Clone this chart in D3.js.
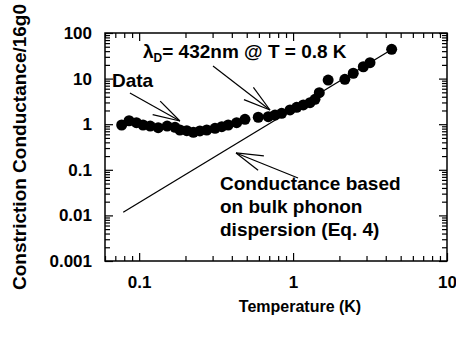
<!DOCTYPE html>
<html>
<head>
<meta charset="utf-8">
<script src="https://cdn.jsdelivr.net/npm/d3@7"></script>
<style>
  body { margin: 0; background: #fff; }
  svg text { font-family: "Liberation Sans", Arial, Helvetica, sans-serif; font-weight: bold; fill: #000; }
</style>
</head>
<body>
<svg id="chart" width="456" height="341"></svg>
<script>
const temperature = [0.077, 0.086, 0.096, 0.106, 0.118, 0.133, 0.152, 0.171, 0.184, 0.204,
  0.225, 0.248, 0.275, 0.311, 0.344, 0.379, 0.430, 0.487, 0.594, 0.690,
  0.763, 0.843, 0.955, 1.055, 1.165, 1.288, 1.388, 1.48, 1.69, 2.17,
  2.46, 2.86, 3.16, 4.37];
const conductance = [0.96, 1.19, 1.08, 0.96, 0.91, 0.84, 0.91, 0.855, 0.746, 0.72,
  0.665, 0.71, 0.746, 0.813, 0.88, 0.96, 1.08, 1.28, 1.42, 1.46,
  1.59, 1.73, 2.05, 2.35, 2.64, 2.96, 3.52, 4.9, 9.3, 9.65,
  13.1, 18.2, 22.3, 43.9];

// bulk phonon dispersion model (straight line on log-log)
const modelT = [0.0788, 4.4];
const modelG = [0.0117, 44];

const xTicks = [0.1, 1, 10];
const xTickLabels = ["0.1", "1", "10"];
const yTicks = [0.001, 0.01, 0.1, 1, 10, 100];
const yTickLabels = ["0.001", "0.01", "0.1", "1", "10", "100"];

const margin = { top: 33, right: 9, bottom: 80, left: 105 };
const width = 456 - margin.left - margin.right;
const height = 341 - margin.top - margin.bottom;

const svg = d3.select("#chart");
const g = svg.append("g").attr("transform", `translate(${margin.left},${margin.top})`);

const x = d3.scaleLog().domain([0.06, 10]).range([0, width]);
const y = d3.scaleLog().domain([0.001, 100]).range([height, 0]);

const xMinor = x.ticks().filter(v => !xTicks.some(t => Math.abs(t - v) < 1e-9));
const yMinor = y.ticks().filter(v => !yTicks.some(t => Math.abs(t - v) < 1e-9));

function clean(sel) {
  sel.select(".domain").remove();
  sel.selectAll(".tick line").attr("stroke", "#000").attr("stroke-width", 1.2);
}

// minor ticks on all four sides
g.append("g").attr("transform", `translate(0,${height})`)
  .call(d3.axisBottom(x).tickValues(xMinor).tickSize(-5).tickFormat("")).call(clean);
g.append("g")
  .call(d3.axisTop(x).tickValues(xMinor).tickSize(-5).tickFormat("")).call(clean);
g.append("g")
  .call(d3.axisLeft(y).tickValues(yMinor).tickSize(-5).tickFormat("")).call(clean);
g.append("g").attr("transform", `translate(${width},0)`)
  .call(d3.axisRight(y).tickValues(yMinor).tickSize(-5).tickFormat("")).call(clean);

// major ticks + labels
g.append("g").attr("transform", `translate(0,${height})`)
  .call(d3.axisBottom(x).tickValues(xTicks).tickSize(-8).tickPadding(15)
    .tickFormat((d, i) => xTickLabels[i]))
  .call(clean)
  .selectAll("text").attr("font-size", 17);
g.append("g")
  .call(d3.axisTop(x).tickValues(xTicks).tickSize(-8).tickFormat("")).call(clean);
g.append("g")
  .call(d3.axisLeft(y).tickValues(yTicks).tickSize(-8).tickPadding(13)
    .tickFormat((d, i) => yTickLabels[i]))
  .call(clean)
  .selectAll("text").attr("font-size", 17);
g.append("g").attr("transform", `translate(${width},0)`)
  .call(d3.axisRight(y).tickValues(yTicks).tickSize(-8).tickFormat("")).call(clean);

svg.selectAll(".tick text").style("font-family", null).attr("font-family", null);
svg.selectAll("g").attr("font-family", null);

// frame
g.append("rect")
  .attr("width", width).attr("height", height)
  .attr("fill", "none").attr("stroke", "#000").attr("stroke-width", 1.5);

// model line
const line = d3.line().x(d => x(d[0])).y(d => y(d[1]));
g.append("path")
  .datum(modelT.map((t, i) => [t, modelG[i]]))
  .attr("d", line)
  .attr("fill", "none").attr("stroke", "#000").attr("stroke-width", 1.3);

// data points
g.selectAll("circle.pt")
  .data(temperature.map((t, i) => [t, conductance[i]]))
  .enter().append("circle")
  .attr("class", "pt")
  .attr("cx", d => x(d[0]))
  .attr("cy", d => y(d[1]))
  .attr("r", 5.5)
  .attr("fill", "#000");

// annotations: arrow tip in data units, tail + text as pixel offsets from tip
const notes = [
  { tip: [0.184, 1.175], tail: [-50, -28], text: [-68, -34], lines: ["Data"] },
  { tip: [0.708, 2.05], tail: [-57, -44], text: [-127, -52], lines: ["λD= 432nm @ T = 0.8 K"] },
  { tip: [0.426, 0.234], tail: [62, 25], text: [-16, 37],
    lines: ["Conductance based", "on bulk phonon", "dispersion (Eq. 4)"] }
];

notes.forEach(n => {
  const tx = x(n.tip[0]), ty = y(n.tip[1]);
  const ang = Math.atan2(n.tail[1], n.tail[0]);
  const len = 28, spread = 16 * Math.PI / 180;
  const a = g.append("g").attr("stroke", "#000").attr("stroke-width", 1.2).attr("fill", "none");
  a.append("line").attr("x1", tx).attr("y1", ty)
    .attr("x2", tx + n.tail[0]).attr("y2", ty + n.tail[1]);
  [-spread, spread].forEach(s => {
    a.append("line").attr("x1", tx).attr("y1", ty)
      .attr("x2", tx + len * Math.cos(ang + s)).attr("y2", ty + len * Math.sin(ang + s));
  });

  const t = g.append("text")
    .attr("x", tx + n.text[0]).attr("y", ty + n.text[1])
    .attr("font-size", 19);
  n.lines.forEach((l, i) => {
    if (l.startsWith("λD")) {
      t.append("tspan").text("λ");
      t.append("tspan").attr("font-size", 12).attr("dy", 4).text("D");
      t.append("tspan").attr("dy", -4).text(l.slice(2));
    } else {
      t.append("tspan").attr("x", tx + n.text[0]).attr("dy", i === 0 ? 0 : 23).text(l);
    }
  });
});

// axis titles
svg.append("text")
  .attr("x", 300).attr("y", 312)
  .attr("text-anchor", "middle").attr("font-size", 16)
  .text("Temperature (K)");

svg.append("text")
  .attr("transform", "translate(26,147) rotate(-90)")
  .attr("text-anchor", "middle").attr("font-size", 19)
  .text("Constriction Conductance/16g0");
</script>
</body>
</html>
